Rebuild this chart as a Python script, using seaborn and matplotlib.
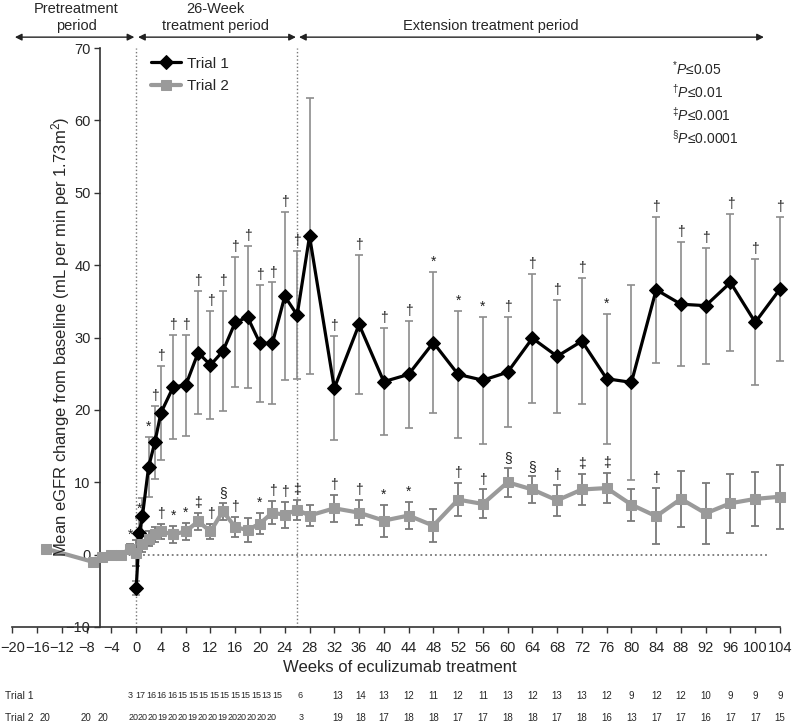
import matplotlib.pyplot as plt
import seaborn as sns
import pandas as pd

# Trial 1 (black diamonds)
weeks_1 = [0, 0.5, 1, 2, 3, 4, 6, 8, 10, 12, 14, 16, 18, 20, 22, 24, 26, 28,
           32, 36, 40, 44, 48, 52, 56, 60, 64, 68, 72, 76, 80, 84, 88, 92, 96, 100, 104]
mean_1 = [-4.6, 3.0, 5.3, 12.1, 15.5, 19.6, 23.2, 23.4, 27.9, 26.2, 28.1, 32.1, 32.8, 29.2,
          29.2, 35.7, 33.1, 44.0, 23.0, 31.8, 23.9, 24.9, 29.3, 24.9, 24.1, 25.2, 29.9,
          27.4, 29.5, 24.3, 23.8, 36.6, 34.6, 34.4, 37.6, 32.1, 36.7]
sd_1 = [1.0, 2.0, 2.5, 4.2, 5.1, 6.5, 7.2, 7.0, 8.5, 7.5, 8.3, 9.0, 9.8, 8.1,
        8.4, 11.6, 8.9, 19.1, 7.2, 9.6, 7.4, 7.4, 9.8, 8.8, 8.8, 7.6, 8.9,
        7.8, 8.7, 9.0, 13.5, 10.1, 8.6, 8.0, 9.5, 8.7, 10.0]
sig_1 = ['', '*', '', '*', '†', '†', '†', '†', '†', '†', '†', '†', '†', '†',
         '†', '†', '†', '', '†', '†', '†', '†', '*', '*', '*', '†', '†',
         '†', '†', '*', '', '†', '†', '†', '†', '†', '†']

# Trial 2 (grey squares)
weeks_2 = [-14.5, -7, -5.5, -4, -2.5, -1, 0, 1, 2, 3, 4, 6, 8, 10, 12, 14, 16, 18, 20,
           22, 24, 26, 28, 32, 36, 40, 44, 48, 52, 56, 60, 64, 68, 72, 76, 80, 84,
           88, 92, 96, 100, 104]
mean_2 = [0.8, -1.0, -0.3, 0.0, 0.0, 0.8, 0.2, 1.5, 2.2, 2.8, 3.2, 2.8, 3.2, 4.6, 3.2,
          6.0, 3.8, 3.4, 4.3, 5.8, 5.5, 6.2, 5.4, 6.4, 5.8, 4.7, 5.4, 4.0, 7.6, 7.0,
          10.0, 9.0, 7.5, 9.0, 9.2, 6.9, 5.3, 7.7, 5.7, 7.1, 7.7, 8.0]
sd_2 = [0, 0.4, 0.4, 0.4, 0.4, 0.6, 1.8, 1.2, 1.0, 1.0, 1.0, 1.2, 1.2, 1.2, 1.1,
        1.2, 1.4, 1.7, 1.5, 1.6, 1.8, 1.4, 1.5, 1.9, 1.7, 2.2, 1.9, 2.3, 2.3, 2.0,
        2.0, 1.8, 2.1, 2.1, 2.1, 2.2, 3.9, 3.9, 4.2, 4.1, 3.7, 4.4]
sig_2 = ['', '', '', '', '', '*', '', '', '', '', '†', '*', '*', '‡', '†',
         '§', '†', '', '*', '†', '†', '‡', '', '†', '†', '*', '*', '', '†', '†',
         '§', '§', '†', '‡', '‡', '', '†', '', '', '', '', '']

# patients per visit (table under the axis)
n_weeks_1 = [-1.0, 0.7, 2.4, 4.1, 5.8, 7.5, 9.2, 10.9, 12.6, 14.3, 16.0, 17.7, 19.4, 21.1,
             22.8, 26.5, 32.5, 36.3, 40, 44, 48, 52, 56, 60, 64, 68, 72, 76, 80, 84, 88,
             92, 96, 100, 104]
n_1 = [3, 17, 16, 16, 16, 15, 15, 15, 15, 15, 15, 15, 15, 13, 15, 6,
       13, 14, 13, 12, 11, 12, 11, 13, 12, 13, 13, 12, 9, 12, 12, 10, 9, 9, 9]
n_weeks_2 = [-14.7, -8.2, -5.4, -0.5, 1.1, 2.7, 4.3, 5.9, 7.5, 9.1, 10.7, 12.3, 13.9, 15.5,
             17.1, 18.7, 20.3, 21.9, 26.6, 32.5, 36.3, 40, 44, 48, 52, 56, 60, 64, 68, 72,
             76, 80, 84, 88, 92, 96, 100, 104]
n_2 = [20, 20, 20, 20, 20, 20, 19, 20, 20, 19, 20, 20, 19, 20, 20, 20, 20, 20, 3,
       19, 18, 17, 18, 18, 17, 17, 18, 18, 17, 18, 16, 13, 17, 17, 16, 17, 17, 15]

x_ticks = list(range(-20, 105, 4))
y_ticks = list(range(-10, 71, 10))

sns.set_style('ticks')
plt.rcParams['font.family'] = ['Liberation Sans', 'DejaVu Sans']
plt.rcParams['mathtext.fontset'] = 'custom'
plt.rcParams['mathtext.rm'] = 'Liberation Sans'
plt.rcParams['mathtext.it'] = 'Liberation Sans:italic'

fig = plt.figure(figsize=(7.93, 7.27), dpi=100)
ax = fig.add_axes([12.4 / 793, 1 - 627 / 727, 767.6 / 793, 579 / 727])

df1 = pd.DataFrame({'week': weeks_1, 'mean': mean_1, 'sd': sd_1})
df2 = pd.DataFrame({'week': weeks_2, 'mean': mean_2, 'sd': sd_2})

grey = '#8c8c8c'
ax.errorbar(df1['week'], df1['mean'], yerr=df1['sd'], fmt='none', ecolor=grey,
            elinewidth=1.2, capsize=3, capthick=1.2, clip_on=False, zorder=2)
ax.errorbar(df2['week'], df2['mean'], yerr=df2['sd'], fmt='none', ecolor='#7a7a7a',
            elinewidth=1.3, capsize=3, capthick=1.3, clip_on=False, zorder=2)
sns.lineplot(data=df1, x='week', y='mean', ax=ax, color='black', marker='D',
             markersize=7.5, markeredgecolor='black', linewidth=2.3, label='Trial 1',
             clip_on=False, zorder=4)
sns.lineplot(data=df2, x='week', y='mean', ax=ax, color='#9a9a9a', marker='s',
             markersize=7.5, markeredgecolor='#9a9a9a', linewidth=3, label='Trial 2',
             clip_on=False, zorder=5)

for df, sig in ((df1, sig_1), (df2, sig_2)):
    for w, m, s, t in zip(df['week'], df['mean'], df['sd'], sig):
        if t:
            ax.text(w, m + s + 0.4, t, ha='center', va='bottom', fontsize=10,
                    color='#222222', zorder=6)

ax.set_xlim(-20, 104)
ax.set_ylim(-10, 70)
ax.set_xticks(x_ticks)
ax.set_yticks(y_ticks)
ax.set_xticklabels([str(t).replace('-', '\u2212') for t in x_ticks])
ax.set_yticklabels([str(t).replace('-', '\u2212') for t in y_ticks])
ax.tick_params(labelsize=10.5, length=4, width=1, color='#333333', pad=3)
ax.tick_params(axis='x', pad=6)
ax.spines['right'].set_visible(False)
ax.spines['top'].set_visible(False)
ax.spines['left'].set_position(('data', -5.8))
ax.spines['bottom'].set_bounds(-20, 104)
for sp in ('left', 'bottom'):
    ax.spines[sp].set_linewidth(1.2)
    ax.spines[sp].set_color('#333333')
ax.set_xlabel('')
ax.set_ylabel('')

# reference lines
ax.plot([0, 0], [-10, 70], ls=':', color='#777777', lw=1, zorder=1)
ax.plot([26, 26], [-10, 70], ls=':', color='#777777', lw=1, zorder=1)
ax.plot([-5.8, 102], [0, 0], ls=':', color='#777777', lw=1.3, zorder=1)

# period arrows
arrow = dict(arrowstyle='<|-|>', color='#222222', lw=1, mutation_scale=10,
             shrinkA=0, shrinkB=0)
for a, b in ((-19.6, -0.3), (0.3, 25.8), (26.3, 101.4)):
    ax.annotate('', xy=(b, 71.5), xytext=(a, 71.5), arrowprops=arrow,
                annotation_clip=False)
ax.text(-9.7, 74.2, 'Pretreatment\nperiod', ha='center', va='center', fontsize=10.5,
        linespacing=1.3)
ax.text(12.8, 74.2, '26-Week\ntreatment period', ha='center', va='center', fontsize=10.5,
        linespacing=1.3)
ax.text(43.1, 73.0, 'Extension treatment period', ha='left', va='center', fontsize=10.5)

ax.legend(frameon=False, loc='upper left', bbox_to_anchor=(0.18, 0.985), fontsize=11,
          handlelength=2.0, handletextpad=0.4, labelspacing=0.55, borderpad=0,
          borderaxespad=0)

p_labels = [r'$^{*}\mathit{P}$≤0.05', r'$^{†}\mathit{P}$≤0.01',
            r'$^{‡}\mathit{P}$≤0.001', r'$^{§}\mathit{P}$≤0.0001']
for i, lab in enumerate(p_labels):
    fig.text(672 / 793, 1 - (69 + i * 23) / 727, lab, ha='left', va='center', fontsize=10)

fig.text(61 / 793, 1 - 337 / 727,
         'Mean eGFR change from baseline (mL per min per 1.73m$^{2}$)',
         rotation=90, ha='center', va='center', fontsize=12)
fig.text(400 / 793, 1 - 668 / 727, 'Weeks of eculizumab treatment', ha='center',
         va='center', fontsize=12)

trans = ax.get_xaxis_transform()
ty1 = 1 - 696 / 727
ty2 = 1 - 718 / 727
fig.text(5 / 793, ty1, 'Trial 1', ha='left', va='center', fontsize=7.5)
fig.text(5 / 793, ty2, 'Trial 2', ha='left', va='center', fontsize=7.5)
ax_y1 = (ty1 - ax.get_position().y0) / ax.get_position().height
ax_y2 = (ty2 - ax.get_position().y0) / ax.get_position().height
for w, n in zip(n_weeks_1, n_1):
    ax.text(w, ax_y1, str(n), transform=trans, ha='center', va='center',
            fontsize=6.5 if w < 27 else 7, clip_on=False)
for w, n in zip(n_weeks_2, n_2):
    ax.text(w, ax_y2, str(n), transform=trans, ha='center', va='center',
            fontsize=6.5 if -1 < w < 27 else 7, clip_on=False)

plt.savefig('out.png', dpi=100)
